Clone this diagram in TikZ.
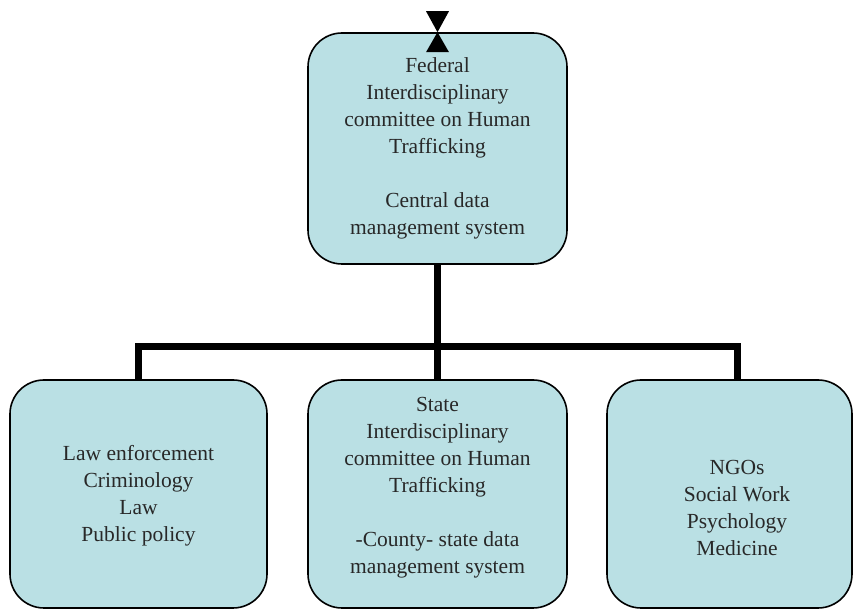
\documentclass[tikz,border=0pt]{standalone}
\usepackage{fontspec}
\setmainfont{Liberation Serif}
\begin{document}
\begin{tikzpicture}[x=1pt,y=1pt,
  orgbox/.style={draw=black, line width=1.6pt, fill=boxfill, rounded corners=34pt,
    minimum width=#1, align=center, inner sep=0pt, text=textgrey,
    font=\fontsize{21.5}{27}\selectfont},
  link/.style={line width=7pt, draw=black},
  tip/.style={fill=black, draw=none}]
\definecolor{boxfill}{RGB}{186,224,228}
\definecolor{textgrey}{RGB}{40,40,40}
\useasboundingbox (0,0) rectangle (854,610);
% top box
\node[orgbox=259pt, minimum height=231pt] (fed) at (437.5,461.5)
  {Federal\\Interdisciplinary\\committee on Human\\Trafficking\\[27pt]Central data\\management system};
% bottom boxes
\node[orgbox=257pt, minimum height=228pt] (law) at (138.5,116) {};
\node[align=center, text=textgrey, font=\fontsize{21.5}{27}\selectfont] (lawt) at (138.5,114.5)
  {Law enforcement\\Criminology\\Law\\Public policy};
\node[orgbox=259pt, minimum height=228pt] (state) at (437.5,116) {};
\node[align=center, text=textgrey, font=\fontsize{21.5}{27}\selectfont] (statet) at (437.5,122.5)
  {State\\Interdisciplinary\\committee on Human\\Trafficking\\[27pt]-County- state data\\management system};
\node[orgbox=245pt, minimum height=228pt] (ngo) at (729.5,116) {};
\node[align=center, text=textgrey, font=\fontsize{21.5}{27}\selectfont] (ngot) at (737,102)
  {NGOs\\Social Work\\Psychology\\Medicine};
% connectors
\coordinate (bus) at (437.5,263);
\draw[link] (fed.south) -- (bus);
\draw[link] (law.north) ++(0,0) |- (bus) -| ([xshift=8pt]ngo.north);
\draw[link] (bus) -- (state.north);
% hourglass tips at top
\coordinate (tt) at (fed.north);
\fill[tip] (tt) -- ++(-11.5,21) -- ++(23,0) -- cycle;
\fill[tip] (tt) -- ++(-11.5,-20) -- ++(23,0) -- cycle;
\end{tikzpicture}
\end{document}
